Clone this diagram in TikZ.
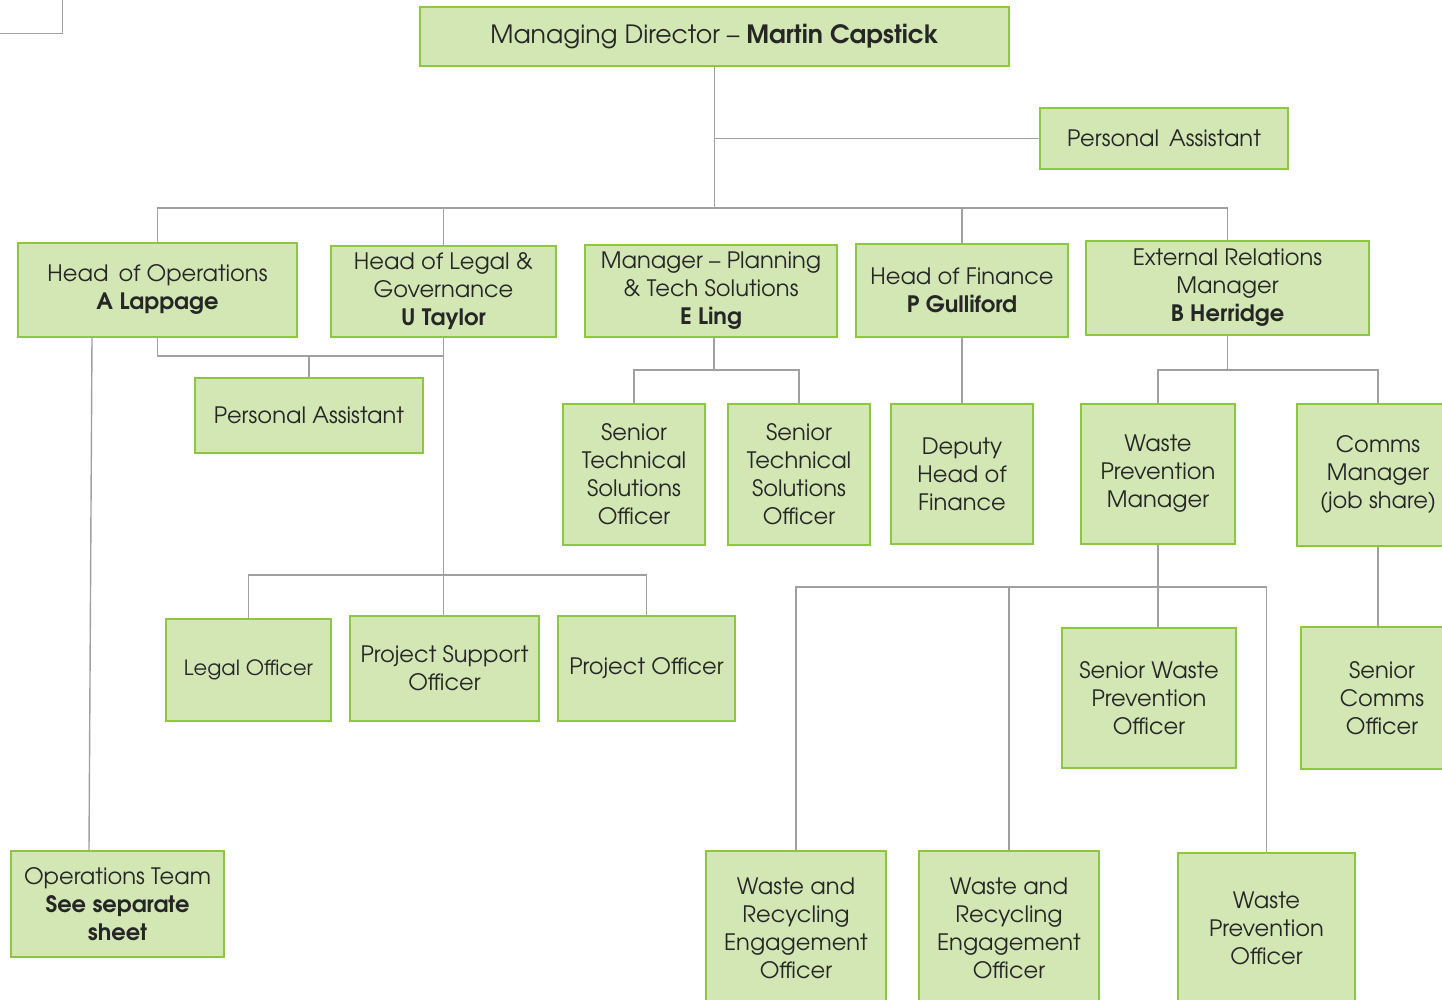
\documentclass[tikz,border=0pt]{standalone}
\usepackage{fontspec}
\setmainfont{texgyreadventor}[Extension=.otf,UprightFont=*-regular,BoldFont=*-bold]
\usepackage{tikz}
\tikzset{>=latex}
\usepackage{xcolor}
\definecolor{postfill}{RGB}{211,231,181}
\definecolor{postline}{RGB}{141,198,63}
\definecolor{linkline}{RGB}{160,160,160}
\definecolor{posttext}{RGB}{38,38,38}
\tikzset{
  post/.style 2 args={draw=postline, fill=postfill, line width=1pt, text=posttext,
    align=center, inner sep=0pt, minimum width=#1*0.5pt, minimum height=#2*0.5pt,
    font=\fontsize{11.3}{14}\selectfont},
  link/.style={draw=linkline, line width=0.7pt}
}

\begin{document}
\begin{tikzpicture}[x=0.5pt,y=-0.5pt]
\useasboundingbox (0,0) rectangle (1442,1000);
\clip (0,0) rectangle (1442,1000);
\draw[linkline] (62,0) -- (62,33) -- (0,33);

\node[post={589}{59}, font=\fontsize{12.6}{15}\selectfont] (md) at (714.5,36.5) {Managing Director – \textbf{Martin Capstick}};
\node[post={248}{61}] (pa top) at (1164,138.5) {Personal\,\ Assistant};

\node[post={279}{94}] (ops) at (157.5,290) {Head\,\ of Operations\\\textbf{A Lappage}};
\node[post={225}{91}] (legal) at (443.5,291.5) {Head of Legal \&\\Governance\\\textbf{U Taylor}};
\node[post={252}{92}] (plan) at (711,291) {Manager – Planning\\\& Tech Solutions\\\textbf{E Ling}};
\node[post={212}{93}] (fin) at (962,290.5) {Head of Finance\\\textbf{P Gulliford}};
\node[post={283}{94}] (ext) at (1227.5,288) {External Relations\\Manager\\\textbf{B Herridge}};

\node[post={228}{75}] (pa ops) at (309,415.5) {Personal Assistant};
\node[post={142}{141}] (tech a) at (634,474.5) {Senior\\Technical\\Solutions\\Officer};
\node[post={142}{141}] (tech b) at (799,474.5) {Senior\\Technical\\Solutions\\Officer};
\node[post={142}{140}] (deputy) at (962,474) {Deputy\\Head of\\Finance};
\node[post={154}{140}] (wpm) at (1158,474) {Waste\\Prevention\\Manager};
\node[post={162}{142}] (comms) at (1378,475) {Comms\\Manager\\(job share)};

\node[post={165}{102}, font=\fontsize{10.5}{13}\selectfont] (legal off) at (248.5,670) {Legal Officer};
\node[post={189}{105}] (proj sup) at (444.5,668.5) {Project Support\\Officer};
\node[post={177}{105}] (proj off) at (646.5,668.5) {Project Officer};
\node[post={174}{140}] (senior wpo) at (1149,698) {Senior Waste\\Prevention\\Officer};
\node[post={162}{142}] (senior comms) at (1382,698) {Senior\\Comms\\Officer};

\node[post={213}{106}] (ops team) at (117.5,904) {Operations Team\\\textbf{See separate}\\\textbf{sheet}};
\node[post={180}{154}] (wreo a) at (796,928) {Waste and\\Recycling\\Engagement\\Officer};
\node[post={180}{154}] (wreo b) at (1009,928) {Waste and\\Recycling\\Engagement\\Officer};
\node[post={177}{150}] (wpo) at (1266.5,928) {Waste\\Prevention\\Officer};

\coordinate (top bus) at (714.5,208);
\coordinate (ops bus) at (309,356);
\coordinate (legal bus) at (443.5,575);
\coordinate (plan bus) at (714,370);
\coordinate (ext bus) at (1227.5,370);
\coordinate (wpm bus) at (1158,587);

\draw[link] (md.south) -- (top bus);
\draw[link] (md.south |- pa top.west) -- (pa top.west);
\draw[link] (ops.north) |- (top bus) -| (ext.north);
\draw[link] (legal.north) -- (legal.north |- top bus);
\draw[link] (fin.north) -- (fin.north |- top bus);

\draw[link] (ops.south -| 92,0) -- (ops team.north -| 89,0);
\draw[link] (ops.south) |- (ops bus) -- (pa ops.north);
\draw[link] (ops bus) -- (ops bus -| legal.south);
\draw[link] (legal.south) -- (proj sup.north -| legal.south);
\draw[link] (legal off.north) |- (legal bus) -| (proj off.north);

\draw[link] (plan.south -| plan bus) -- (plan bus);
\draw[link] (tech a.north) |- (plan bus) -| (tech b.north);
\draw[link] (fin.south) -- (deputy.north);
\draw[link] (ext.south) -- (ext bus);
\draw[link] (wpm.north) |- (ext bus) -| (comms.north);

\draw[link] (wpm.south) -- (wpm bus);
\draw[link] (wreo a.north) |- (wpm bus) -| (wpo.north);
\draw[link] (wreo b.north) -- (wreo b.north |- wpm bus);
\draw[link] (wpm bus) -- (wpm bus |- senior wpo.north);
\draw[link] (comms.south) -- (comms.south |- senior comms.north);
\end{tikzpicture}
\end{document}
